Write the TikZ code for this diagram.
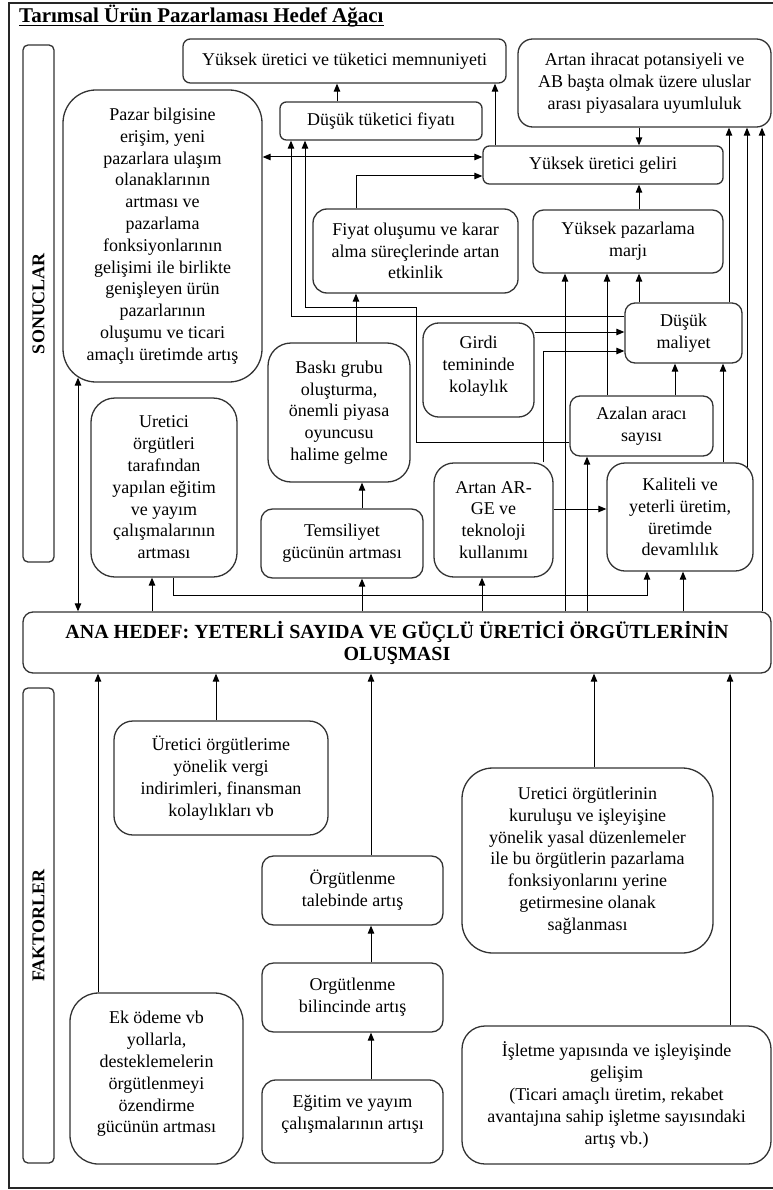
\documentclass[tikz,border=0pt]{standalone}
\usepackage{fontspec}
\setmainfont{Liberation Serif}
\usetikzlibrary{arrows.meta,calc}
\begin{document}
\begin{tikzpicture}[x=1pt,y=-1pt,
  box/.style={draw=black!80, line width=1.3pt, align=center, inner sep=0pt,
    font=\fontsize{18pt}{21.8pt}\selectfont},
  txt/.style={align=center, inner sep=0pt, font=\fontsize{18pt}{21.8pt}\selectfont},
  sbox/.style={draw=black!80, line width=1.3pt, inner sep=0pt,
    font=\fontsize{18pt}{21.8pt}\selectfont\bfseries},
  arr/.style={-{Triangle[length=8pt,width=6.5pt]}, line width=1pt},
  darr/.style={{Triangle[length=8pt,width=6.5pt]}-{Triangle[length=8pt,width=6.5pt]}, line width=1pt}]
\useasboundingbox (0,0) rectangle (772,1190);
\draw[line width=1.2pt, black!85] (9,3) rectangle (785,1188);

% title
\node[anchor=base west, inner sep=0pt, font=\fontsize{21pt}{24pt}\selectfont\bfseries] (title) at (19,23) {Tarımsal Ürün Pazarlaması Hedef Ağacı};
\draw[line width=1.2pt] ([yshift=-2.5pt]title.base west) -- ([yshift=-2.5pt]title.base east);

% side bars
\node[sbox, rotate=90, minimum width=517pt, minimum height=31pt, rounded corners=5pt] (son) at (38.5,303.5) {SONUCLAR};
\node[sbox, rotate=90, minimum width=475pt, minimum height=31pt, rounded corners=5pt] (fak) at (38.5,925.5) {FAKTORLER};

% upper boxes
\node[box, minimum width=323pt, minimum height=44pt, rounded corners=7.3pt] (mem) at (344.5,61) {Yüksek üretici ve tüketici memnuniyeti};
\node[box, minimum width=253pt, minimum height=88pt, rounded corners=14.7pt] (ihr) at (644.5,83) {Artan ihracat potansiyeli ve\\AB başta olmak üzere uluslar\\arası piyasalara uyumluluk};
\node[box, minimum width=202pt, minimum height=38pt, rounded corners=6.3pt] (dtf) at (381,121) {Düşük tüketici fiyatı};
\node[box, minimum width=240pt, minimum height=38pt, rounded corners=6.3pt] (yug) at (603,165) {Yüksek üretici geliri};
\node[box, minimum width=199pt, minimum height=292pt, rounded corners=33pt] (paz) at (162.5,236) {Pazar bilgisine\\erişim, yeni\\pazarlara ulaşım\\olanaklarının\\artması ve\\pazarlama\\fonksiyonlarının\\gelişimi  ile birlikte\\genişleyen ürün\\pazarlarının\\oluşumu ve ticari\\amaçlı üretimde artış};
\node[box, minimum width=205pt, minimum height=84pt, rounded corners=14pt] (fiy) at (415.5,251) {Fiyat oluşumu ve karar\\alma süreçlerinde artan\\etkinlik};
\node[box, minimum width=190pt, minimum height=63pt, rounded corners=10.5pt] (ypm) at (628,241.5) {Yüksek pazarlama\\marjı};
\node[box, minimum width=117pt, minimum height=60pt, rounded corners=10pt] (dm) at (683.5,333) {Düşük\\maliyet};
\node[box, minimum width=111pt, minimum height=94pt, rounded corners=15.7pt] (gir) at (478.5,370) {};
\node[txt] (girt) at (478.5,366) {Girdi\\temininde\\kolaylık};
\node[box, minimum width=142pt, minimum height=139pt, rounded corners=23pt] (bas) at (339,412.5) {Baskı grubu\\oluşturma,\\önemli piyasa\\oyuncusu\\halime gelme};
\node[box, minimum width=143pt, minimum height=60pt, rounded corners=10pt] (aza) at (641.5,426) {Azalan aracı\\sayısı};
\node[box, minimum width=146pt, minimum height=179pt, rounded corners=24pt] (uog) at (164,487.5) {Uretici\\örgütleri\\tarafından\\yapılan eğitim\\ve yayım\\çalışmalarının\\artması};
\node[box, minimum width=162pt, minimum height=69pt, rounded corners=11.5pt] (tem) at (342,543.5) {Temsiliyet\\gücünün artması};
\node[box, minimum width=119pt, minimum height=114pt, rounded corners=19.8pt] (arg) at (493.5,520) {Artan AR-\\GE ve\\teknoloji\\kullanımı};
\node[box, minimum width=146pt, minimum height=108pt, rounded corners=18pt] (kal) at (680,517) {Kaliteli ve\\yeterli üretim,\\üretimde\\devamlılık};

% main goal
\node[box, minimum width=748pt, minimum height=61pt, rounded corners=10pt, font=\fontsize{20pt}{22pt}\selectfont\bfseries] (ana) at (397,642.5) {ANA HEDEF: YETERLİ SAYIDA VE GÜÇLÜ ÜRETİCİ ÖRGÜTLERİNİN\\OLUŞMASI};

% lower boxes
\node[box, minimum width=214pt, minimum height=114pt, rounded corners=19pt] (uvk) at (221,778) {Üretici örgütlerime\\yönelik vergi\\indirimleri, finansman\\kolaylıkları vb};
\node[box, minimum width=181pt, minimum height=69pt, rounded corners=11.5pt] (tal) at (352.5,890.5) {Örgütlenme\\talebinde artış};
\node[box, minimum width=181pt, minimum height=69pt, rounded corners=11.5pt] (bil) at (352.5,997.5) {Orgütlenme\\bilincinde artış};
\node[box, minimum width=181pt, minimum height=83pt, rounded corners=13.8pt] (egi) at (352.5,1121.5) {};
\node[txt] (egit) at (352.5,1114) {Eğitim ve yayım\\çalışmalarının artışı};
\node[box, minimum width=173pt, minimum height=171pt, rounded corners=28.5pt] (ek) at (156.5,1078.5) {};
\node[txt] (ekt) at (156.5,1074) {Ek ödeme vb\\yollarla,\\desteklemelerin\\örgütlenmeyi\\özendirme\\gücünün artması};
\node[box, minimum width=251pt, minimum height=185pt, rounded corners=30.8pt] (yas) at (587.5,860.5) {Uretici örgütlerinin\\kuruluşu ve işleyişine\\yönelik yasal düzenlemeler\\ile bu örgütlerin pazarlama\\fonksiyonlarını yerine\\getirmesine olanak\\sağlanması};
\node[box, minimum width=309pt, minimum height=138pt, rounded corners=23pt] (isl) at (616.5,1095) {İşletme yapısında ve işleyişinde\\gelişim\\(Ticari amaçlı üretim, rekabet\\avantajına sahip işletme sayısındaki\\artış vb.)};

% helper coordinates
\foreach \v in {78,98,152,173,216,291,305,337,356,362,371,416,482,495,543,565,587,594,607,639,647,675,683,723,729,730,747,762}
  \coordinate (x\v) at (\v,0);
\foreach \v in {157,176,307,316,332,351,442,509,595}
  \coordinate (y\v) at (0,\v);
\coordinate (j1) at (173,595);
\coordinate (j2) at (416,307);

% connectors, upper part
\draw[arr] (dtf.north -| x337) -- (mem.south -| x337);
\draw[arr] (yug.north -| x495) -- (mem.south -| x495);
\draw[arr] (ihr.south -| x639) -- (yug.north -| x639);
\draw[arr] (ypm.north -| x639) -- (yug.south -| x639);
\draw[darr] (paz.east |- y157) -- (yug.west |- y157);
\draw[arr] (fiy.north -| x356) |- (yug.west |- y176);
\draw[arr] (bas.north -| x356) -- (fiy.south -| x356);
\draw[arr] (tem.north -| x362) -- (bas.south -| x362);
\draw[arr] (ana.north -| x362) -- (tem.south -| x362);
\draw[arr] (ana.north -| x152) -- (uog.south -| x152);
\draw[darr] ($(paz.south -| x78)+(0,-5)$) -- (ana.north -| x78);
\draw[arr] (uog.south -| x173) -- (j1) -| (kal.south -| x647);
\draw[arr] (ana.north -| x482) -- (arg.south -| x482);
\draw[arr] (arg.east |- y509) -- (kal.west |- y509);
\draw[arr] (arg.north -| x543) |- (dm.west |- y351);
\draw[arr] (gir.east |- y332) -- (dm.west |- y332);
\draw[arr] (ana.north -| x565) -- (ypm.south -| x565);
\draw[arr] (ana.north -| x587) -- (aza.south -| x587);
\draw[arr] (aza.north -| x607) -- (ypm.south -| x607);
\draw[arr] (dm.north -| x639) -- (ypm.south -| x639);
\draw[arr] (aza.north -| x675) -- (dm.south -| x675);
\draw[arr] (kal.north -| x723) -- (dm.south -| x723);
\draw[arr] (ana.north -| x683) -- (kal.south -| x683);
\draw[arr] (dm.north -| x729) -- (ihr.south -| x729);
\draw[arr] ($(kal.north -| x747)+(0,5)$) -- (ihr.south -| x747);
\draw[arr] (ana.north -| x762) -- (ihr.south -| x762);
\draw[arr] (dm.west |- y316) -| (dtf.south -| x291);
\draw[arr] (aza.west |- y442) -| (j2) -| (dtf.south -| x305);

% connectors, lower part
\draw[arr] (ek.north -| x98) -- (ana.south -| x98);
\draw[arr] (uvk.north -| x216) -- (ana.south -| x216);
\draw[arr] (tal.north -| x371) -- (ana.south -| x371);
\draw[arr] (bil.north -| x371) -- (tal.south -| x371);
\draw[arr] (egi.north -| x371) -- (bil.south -| x371);
\draw[arr] (yas.north -| x594) -- (ana.south -| x594);
\draw[arr] (isl.north -| x730) -- (ana.south -| x730);
\end{tikzpicture}
\end{document}
